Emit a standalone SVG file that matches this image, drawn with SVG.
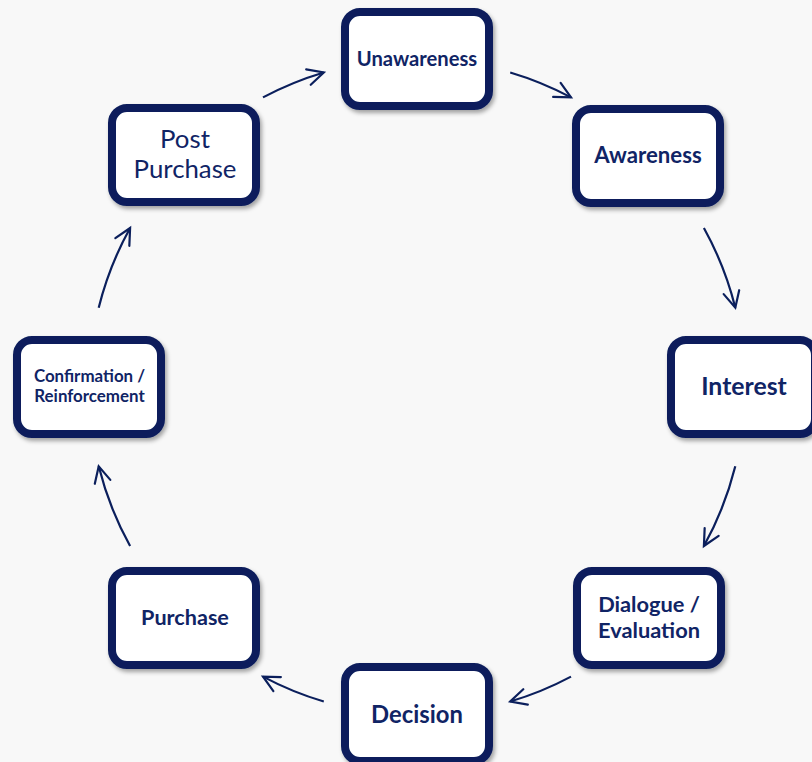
<svg xmlns="http://www.w3.org/2000/svg" width="812" height="762" viewBox="0 0 812 762">
  <defs>
    <filter id="shadow" x="-10%" y="-10%" width="125%" height="130%">
      <feDropShadow dx="2" dy="3" stdDeviation="2" flood-color="#000" flood-opacity="0.35"/>
    </filter>
    <marker id="head" viewBox="-19 -10 22 20" markerWidth="22" markerHeight="20" refX="0" refY="0" orient="auto" markerUnits="userSpaceOnUse" overflow="visible">
      <path d="M-16,-8 L0,0 L-16,8" fill="none" stroke="#0b1f5c" stroke-width="2.2" stroke-linecap="round" stroke-linejoin="miter"/>
    </marker>
    <style>
      .box { fill: #ffffff; stroke: #0b1f5c; stroke-width: 8; filter: url(#shadow); }
      .lbl { font-family: Lato, "Open Sans", "Liberation Sans", sans-serif; font-weight: 700; fill: #102465; text-anchor: middle; }
      .reg { font-weight: 400; }
      .arc { fill: none; stroke: #0b1f5c; stroke-width: 2.2; marker-end: url(#head); }
    </style>
  </defs>

  <rect width="812" height="762" fill="#f8f8f8"/>

  <!-- connectors: arcs of one circle around the cycle (centre 417,387, r 328) -->
  <g id="connectors">
    <path class="arc" d="M263.0,97.4 A328,328 0 0 1 323.8,72.5"/>
    <path class="arc" d="M510.2,72.5 A328,328 0 0 1 571.0,97.4"/>
    <path class="arc" d="M703.9,228.0 A328,328 0 0 1 735.3,307.7"/>
    <path class="arc" d="M735.3,466.3 A328,328 0 0 1 703.9,546.0"/>
    <path class="arc" d="M571.0,676.6 A328,328 0 0 1 510.2,701.5"/>
    <path class="arc" d="M323.8,701.5 A328,328 0 0 1 263.0,676.6"/>
    <path class="arc" d="M130.1,546.0 A328,328 0 0 1 98.7,466.3"/>
    <path class="arc" d="M98.7,307.7 A328,328 0 0 1 130.1,228.0"/>
  </g>

  <g id="unawareness">
    <rect class="box" x="345" y="12" width="144" height="94" rx="15"/>
    <text class="lbl" x="417" y="66" font-size="20.2">Unawareness</text>
  </g>

  <g id="awareness">
    <rect class="box" x="576" y="109" width="144" height="94" rx="15"/>
    <text class="lbl" x="648" y="163" font-size="22.2">Awareness</text>
  </g>

  <g id="interest">
    <rect class="box" x="671" y="340" width="144" height="94" rx="15"/>
    <text class="lbl" x="744" y="395" font-size="24.8">Interest</text>
  </g>

  <g id="dialogue-evaluation">
    <rect class="box" x="577" y="571" width="144" height="94" rx="15"/>
    <text class="lbl" x="649" y="612" font-size="21.8">Dialogue /</text>
    <text class="lbl" x="649" y="638" font-size="21.8">Evaluation</text>
  </g>

  <g id="decision">
    <rect class="box" x="345" y="667" width="144" height="94" rx="15"/>
    <text class="lbl" x="417" y="723" font-size="23.8">Decision</text>
  </g>

  <g id="purchase">
    <rect class="box" x="112" y="571" width="144" height="94" rx="15"/>
    <text class="lbl" x="185" y="625" font-size="21.6">Purchase</text>
  </g>

  <g id="confirmation-reinforcement">
    <rect class="box" x="17" y="340" width="144" height="94" rx="15"/>
    <text class="lbl" x="89.5" y="382" font-size="16.9">Confirmation /</text>
    <text class="lbl" x="89.5" y="402" font-size="16.9">Reinforcement</text>
  </g>

  <g id="post-purchase">
    <rect class="box" x="112" y="108" width="144" height="94" rx="15"/>
    <text class="lbl reg" x="185" y="148" font-size="25.8">Post</text>
    <text class="lbl reg" x="185" y="178" font-size="25.8">Purchase</text>
  </g>
</svg>
